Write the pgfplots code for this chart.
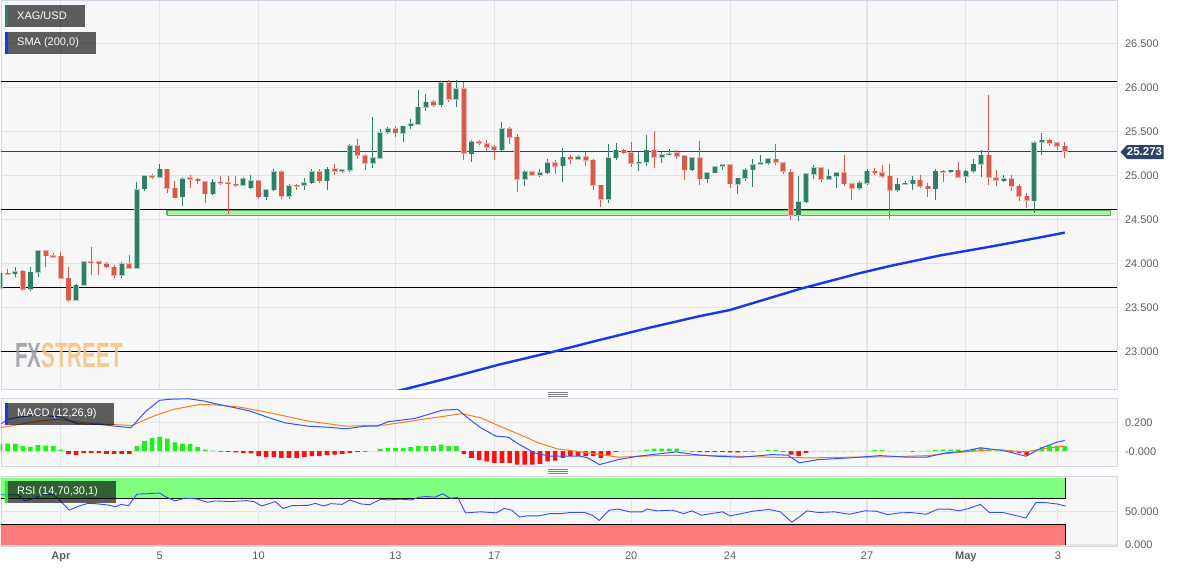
\documentclass[border=0pt]{standalone}
\usepackage{pgfplots}
\pgfplotsset{compat=1.18}
\usepackage{pgfplotstable}
\usepackage{fontspec}
\setmainfont{Liberation Sans}

\definecolor{bg}{HTML}{F7F7F7}
\definecolor{gridc}{HTML}{E4E4E4}
\definecolor{border}{HTML}{D3D8E8}
\definecolor{cup}{HTML}{2F7F67}
\definecolor{cuplt}{HTML}{A3CDBF}
\definecolor{cdn}{HTML}{D85A4A}
\definecolor{cdnlt}{HTML}{EDB0A8}
\definecolor{smac}{HTML}{1638E8}
\definecolor{macdc}{HTML}{3355FF}
\definecolor{sigc}{HTML}{FF7B1C}
\definecolor{hup}{HTML}{1DF01D}
\definecolor{hdn}{HTML}{FF1010}
\definecolor{rsig}{HTML}{80FF80}
\definecolor{rsir}{HTML}{FA7B7B}
\definecolor{navyc}{HTML}{2C4566}
\definecolor{lab}{HTML}{5E5E5E}
\definecolor{zonef}{HTML}{B5EBAE}
\definecolor{zonee}{HTML}{4CB84C}
\definecolor{wmg}{HTML}{9A9CA3}
\definecolor{wmo}{HTML}{F5C27E}
\definecolor{rsil}{HTML}{3050F0}

\pgfplotstableread{
k O H L C
1 23.715 23.890 23.700 23.886
3 23.882 23.962 23.840 23.901
5 23.704 23.954 23.689 23.897
6 23.901 24.158 23.840 24.143
11 23.583 23.765 23.575 23.749
12 23.753 24.018 23.746 24.015
17 23.867 24.018 23.829 23.996
19 23.946 24.927 23.931 24.840
20 24.848 25.011 24.825 24.996
22 24.984 25.136 24.977 25.071
25 24.757 24.984 24.651 24.965
29 24.795 24.965 24.776 24.924
33 24.890 24.984 24.878 24.965
34 24.863 25.003 24.852 24.943
36 24.757 24.852 24.727 24.840
37 24.840 25.079 24.825 25.041
39 24.765 24.908 24.734 24.886
41 24.890 24.977 24.840 24.920
42 24.920 25.079 24.908 25.041
44 24.939 25.098 24.840 25.071
46 25.052 25.079 25.030 25.064
47 25.060 25.363 25.041 25.340
50 25.143 25.666 25.090 25.200
51 25.200 25.533 25.193 25.488
52 25.496 25.552 25.469 25.533
54 25.484 25.568 25.382 25.560
55 25.568 25.647 25.533 25.587
56 25.583 25.977 25.571 25.776
57 25.780 25.931 25.734 25.833
59 25.806 26.075 25.780 26.056
61 25.867 26.083 25.780 25.988
63 25.249 25.401 25.155 25.382
67 25.295 25.609 25.280 25.533
70 24.958 25.060 24.882 25.045
72 25.007 25.079 24.984 25.033
73 25.033 25.189 25.022 25.143
75 25.113 25.318 24.927 25.208
77 25.189 25.230 25.181 25.215
81 24.734 25.355 24.689 25.204
82 25.204 25.374 25.174 25.287
85 25.140 25.268 25.052 25.151
86 25.151 25.458 25.105 25.287
88 25.208 25.268 25.143 25.238
89 25.238 25.306 25.230 25.249
92 25.068 25.211 25.049 25.200
94 24.962 25.041 24.916 25.030
95 25.033 25.105 25.030 25.098
96 25.105 25.136 25.060 25.121
98 24.901 24.977 24.795 24.969
99 24.969 25.090 24.939 25.068
100 25.068 25.193 24.871 25.124
101 25.132 25.238 25.128 25.140
102 25.140 25.200 25.124 25.189
106 24.549 24.992 24.484 24.704
107 24.700 25.030 24.689 25.018
108 25.018 25.124 24.965 25.087
110 24.958 25.079 24.946 24.992
111 24.992 25.037 24.859 25.030
114 24.859 24.935 24.840 24.920
115 24.916 25.071 24.890 25.049
119 24.833 24.973 24.814 24.901
120 24.901 24.935 24.890 24.908
121 24.908 24.992 24.840 24.946
124 24.848 25.071 24.727 25.049
126 25.045 25.068 25.030 25.060
128 24.992 25.060 24.916 25.049
129 25.049 25.193 25.030 25.128
130 25.132 25.287 24.984 25.230
133 24.939 25.003 24.927 24.965
137 24.712 25.390 24.575 25.371
138 25.382 25.488 25.238 25.401
}\upT

\pgfplotstableread{
k O H L C
2 23.886 23.931 23.867 23.874
4 23.909 23.924 23.689 23.704
7 24.143 24.158 23.954 24.087
8 24.083 24.113 24.056 24.071
9 24.079 24.132 23.818 23.829
10 23.829 23.962 23.564 23.583
13 24.015 24.189 23.867 24.007
14 24.015 24.030 23.867 23.996
15 23.992 24.018 23.943 23.962
16 23.954 23.980 23.829 23.867
18 23.996 24.094 23.931 23.946
21 24.996 25.022 24.958 24.984
23 25.071 25.079 24.802 24.859
24 24.855 24.939 24.742 24.749
26 24.973 25.003 24.863 24.958
27 24.958 24.977 24.908 24.939
28 24.931 24.939 24.689 24.795
30 24.924 24.996 24.890 24.912
31 24.916 25.000 24.560 24.905
32 24.901 24.996 24.871 24.890
35 24.943 24.954 24.734 24.757
38 25.041 25.068 24.738 24.765
40 24.890 24.901 24.840 24.878
43 25.041 25.079 24.916 24.939
45 25.075 25.136 25.003 25.052
48 25.340 25.420 25.193 25.230
49 25.227 25.249 25.068 25.143
53 25.530 25.564 25.439 25.488
58 25.837 25.855 25.780 25.802
60 26.052 26.083 25.837 25.867
62 25.984 26.064 25.181 25.257
64 25.386 25.408 25.344 25.371
65 25.363 25.401 25.280 25.325
66 25.325 25.344 25.181 25.295
68 25.533 25.552 25.355 25.439
69 25.435 25.469 24.814 24.958
71 25.041 25.049 24.992 25.003
74 25.147 25.181 25.022 25.109
76 25.208 25.230 25.136 25.189
78 25.215 25.268 25.105 25.174
79 25.174 25.193 24.840 24.890
80 24.890 24.890 24.643 24.734
83 25.287 25.302 25.249 25.261
84 25.257 25.382 25.098 25.143
87 25.287 25.503 25.087 25.208
90 25.257 25.295 25.189 25.223
91 25.223 25.230 24.954 25.068
93 25.200 25.390 24.897 24.962
97 25.121 25.128 24.859 24.908
103 25.185 25.363 25.124 25.151
104 25.147 25.155 25.022 25.049
105 25.037 25.079 24.499 24.549
109 25.087 25.098 24.927 24.958
112 25.030 25.230 24.886 24.908
113 24.908 24.916 24.727 24.859
116 25.049 25.090 25.003 25.030
117 25.030 25.124 24.973 24.992
118 24.992 25.136 24.507 24.833
122 24.946 25.011 24.859 24.878
123 24.878 24.916 24.757 24.852
125 25.049 25.060 24.927 25.037
127 25.060 25.155 24.973 24.984
131 25.230 25.912 24.897 24.984
132 24.973 25.068 24.886 24.946
134 24.965 25.011 24.821 24.878
135 24.878 24.908 24.708 24.765
136 24.765 24.802 24.632 24.719
139 25.401 25.412 25.333 25.371
140 25.371 25.382 25.295 25.336
141 25.333 25.382 25.204 25.276
}\dnT

\pgfplotsset{
  panel/.style={
    scale only axis, anchor=north west, width=1116pt,
    xmin=1.13, xmax=147.87,
    axis background/.style={fill=bg},
    axis line style={draw=border, line width=0.9pt},
    xtick={9,22,35,53,66,84,97,115,128,140.1},
    grid=major, major grid style={draw=gridc, line width=1.1pt},
    major tick length=0pt,
    yticklabel pos=right,
    yticklabel style={font=\fontsize{11}{13}\selectfont, text=lab, anchor=west, xshift=4.5pt},
    clip=true,
  },
  candle/.style 2 args={draw=none, mark=none, forget plot,
    error bars/.cd, y dir=plus, y explicit, error mark=none,
    error bar style={draw=#1, line width=#2}},
}

\begin{document}
\begin{tikzpicture}
\fill[white] (0,0) rectangle (1182pt,-571pt);
\useasboundingbox (0,0) rectangle (1182pt,-571pt);

% ---------------- main price panel
\begin{axis}[panel, at={(1pt,0pt)}, height=389.5pt,
  ymin=22.565, ymax=26.997,
  ytick={23,23.5,24,24.5,25,25.5,26,26.5},
  yticklabels={23.000,23.500,24.000,24.500,25.000,25.500,26.000,26.500},
  xticklabels={}]
% support zone
\addplot[fill=zonef, draw=zonee, line width=1.2pt, forget plot] coordinates {(22.96,24.547) (147,24.547) (147,24.599) (22.96,24.599) (22.96,24.547)};
% horizontal levels
\addplot[black, line width=1.1pt, forget plot] coordinates {(0,26.065) (150,26.065)};
\addplot[black, line width=1.1pt, forget plot] coordinates {(0,24.616) (150,24.616)};
\addplot[black, line width=1.1pt, forget plot] coordinates {(0,23.722) (150,23.722)};
\addplot[black, line width=1.1pt, forget plot] coordinates {(0,22.998) (150,22.998)};
\addplot[navyc, line width=1pt, forget plot] coordinates {(0,25.276) (150,25.276)};
% SMA 200
\addplot[smac, line width=2.4pt, forget plot] coordinates {
(52,22.52) (60.2,22.70) (66.7,22.85) (74.0,23.00) (79.9,23.13) (86.5,23.27)
(93.0,23.40) (97.0,23.47) (106.2,23.71) (114.1,23.89) (118.0,23.97)
(124.6,24.09) (131.2,24.19) (136.8,24.28) (141.0,24.35)};
% wicks
\addplot[candle={cup}{1pt}] table[x=k, y=L, y error plus expr={\thisrow{H}-\thisrow{L}}] {\upT};
\addplot[candle={cdn}{1pt}] table[x=k, y=L, y error plus expr={\thisrow{H}-\thisrow{L}}] {\dnT};
% body halos
\addplot[candle={cuplt}{5.8pt}] table[x=k, y expr={min(\thisrow{O},\thisrow{C})-0.007}, y error plus expr={max(abs(\thisrow{C}-\thisrow{O}),0.012)+0.014}] {\upT};
\addplot[candle={cdnlt}{5.8pt}] table[x=k, y expr={min(\thisrow{O},\thisrow{C})-0.007}, y error plus expr={max(abs(\thisrow{C}-\thisrow{O}),0.012)+0.014}] {\dnT};
% bodies
\addplot[candle={cup}{4.2pt}] table[x=k, y expr={min(\thisrow{O},\thisrow{C})}, y error plus expr={max(abs(\thisrow{C}-\thisrow{O}),0.012)}] {\upT};
\addplot[candle={cdn}{4.2pt}] table[x=k, y expr={min(\thisrow{O},\thisrow{C})}, y error plus expr={max(abs(\thisrow{C}-\thisrow{O}),0.012)}] {\dnT};
\end{axis}

% ---------------- MACD panel
\begin{axis}[panel, at={(1pt,-398pt)}, height=68pt,
  ymin=-0.104, ymax=0.374,
  ytick={0,0.2}, yticklabels={-0.000,0.200},
  xticklabels={}]
\addplot[ybar, bar width=4.6pt, bar shift=0pt, fill=hup, draw=none, forget plot] coordinates {
(1,0.050)(2,0.054)(3,0.054)(4,0.035)(5,0.031)(6,0.042)(7,0.040)(8,0.035)(9,0.012)
(19,0.035)(20,0.071)(21,0.094)(22,0.101)(23,0.089)(24,0.063)(25,0.054)(26,0.052)(27,0.031)(28,0.012)(29,0.005)
(51,0.016)(52,0.024)(53,0.024)(54,0.024)(55,0.028)(56,0.035)(57,0.035)(58,0.035)(59,0.047)(60,0.035)(61,0.035)
(83,0.002)(84,0.002)(85,0.003)(86,0.012)(87,0.019)(88,0.019)(89,0.019)(90,0.019)(91,0.005)
(101,0.003)(102,0.007)(103,0.007)(108,0.002)(109,0.002)(110,0.002)(111,0.003)(112,0.003)(113,0.002)(114,0.003)(115,0.003)
(116,0.007)(117,0.007)(118,0.002)(119,0.003)(120,0.002)(122,0.002)(123,0.005)(124,0.009)(125,0.012)(126,0.012)(127,0.012)
(128,0.009)(129,0.016)(130,0.024)(131,0.012)(132,0.005)(133,0.002)(137,0.010)(138,0.028)(139,0.040)(140,0.040)(141,0.035)};
\addplot[ybar, bar width=4.6pt, bar shift=0pt, fill=hdn, draw=none, forget plot] coordinates {
(10,-0.019)(11,-0.028)(12,-0.012)(13,-0.012)(14,-0.012)(15,-0.019)(16,-0.019)(17,-0.019)(18,-0.019)
(30,-0.002)(31,-0.005)(32,-0.009)(33,-0.012)(34,-0.016)(35,-0.035)(36,-0.042)(37,-0.040)(38,-0.047)(39,-0.047)
(40,-0.047)(41,-0.040)(42,-0.035)(43,-0.035)(44,-0.028)(45,-0.024)(46,-0.019)(47,-0.012)(48,-0.005)(49,-0.002)
(62,-0.019)(63,-0.047)(64,-0.063)(65,-0.071)(66,-0.082)(67,-0.082)(68,-0.082)(69,-0.094)(70,-0.094)(71,-0.094)
(72,-0.089)(73,-0.071)(74,-0.066)(75,-0.047)(76,-0.035)(77,-0.035)(78,-0.035)(79,-0.035)(80,-0.047)(81,-0.031)(82,-0.004)
(92,-0.003)(93,-0.007)(94,-0.007)(95,-0.007)(96,-0.005)(97,-0.009)(98,-0.009)(99,-0.003)(100,-0.003)
(104,-0.003)(105,-0.024)(106,-0.035)(107,-0.012)(121,-0.002)(134,-0.003)(135,-0.012)(136,-0.028)};
\addplot[sigc, line width=1pt, forget plot] coordinates {
(1,0.165)(3.5,0.188)(6.1,0.212)(8.6,0.224)(11.1,0.207)(13.6,0.193)(18.4,0.181)(21.2,0.247)(23.8,0.294)
(27.3,0.329)(29.3,0.325)(32.4,0.311)(36.4,0.271)(41.5,0.212)(46.5,0.176)(51.6,0.184)(56.6,0.224)(61.7,0.264)
(64.2,0.235)(66.7,0.176)(69.3,0.118)(71.8,0.059)(74.3,0.016)(76.8,0)(78.8,-0.015)(82.3,-0.042)(87.4,-0.031)
(92.4,-0.028)(97.5,-0.035)(102.5,-0.042)(107.6,-0.047)(112.7,-0.042)(117.7,-0.040)(122.8,-0.031)
(127.8,-0.005)(131.9,0.012)(135.9,-0.005)(139,0.024)(141,0.035)};
\addplot[macdc, line width=1pt, forget plot] coordinates {
(1,0.188)(2,0.224)(3.5,0.240)(6.1,0.254)(9.1,0.240)(11.1,0.193)(14.1,0.188)(16.2,0.176)(18.2,0.165)
(20.2,0.282)(22,0.358)(23.3,0.365)(25.8,0.369)(27.8,0.353)(29.3,0.334)(31.4,0.311)(33.9,0.282)(36.4,0.235)
(38.4,0.200)(41.5,0.176)(44,0.169)(46.5,0.158)(49,0.176)(50.6,0.176)(52,0.207)(55.6,0.231)(59.2,0.289)
(61.2,0.294)(62.2,0.247)(64.2,0.165)(66.2,0.106)(67.8,0.099)(69.3,0.047)(71.3,-0.012)(73.3,-0.035)
(75.8,-0.035)(77.3,-0.035)(78.3,-0.047)(79.8,-0.094)(82.3,-0.059)(84.9,-0.035)(89.9,-0.005)(92.4,-0.024)
(95,-0.035)(98.5,-0.042)(102.5,-0.024)(104.6,-0.028)(106.1,-0.082)(108.6,-0.059)(112.7,-0.047)(116.7,-0.031)
(120.3,-0.042)(122.8,-0.042)(125.3,-0.012)(127.8,0)(129.9,0.024)(132.9,0.005)(135.9,-0.035)(138,0.024)
(140,0.064)(141,0.075)};
\end{axis}

% ---------------- RSI panel
\begin{axis}[panel, at={(1pt,-476pt)}, height=70pt,
  ymin=-1.5, ymax=103,
  ytick={0,50}, yticklabels={0.000,50.000},
  xticklabels={\textbf{Apr},5,10,13,17,20,24,27,\textbf{May},3},
  xticklabel style={font=\fontsize{11}{13}\selectfont, text=lab, yshift=-2pt}]
\addplot[fill=rsig, draw=none, forget plot] coordinates {(0,70)(141.1,70)(141.1,100)(0,100)(0,70)};
\addplot[fill=rsir, draw=none, forget plot] coordinates {(0,0)(141.1,0)(141.1,30)(0,30)(0,0)};
\addplot[black, line width=0.9pt, forget plot] coordinates {(0,70)(141.1,70)(141.1,100)};
\addplot[black, line width=0.9pt, forget plot] coordinates {(0,30)(141.1,30)(141.1,0)};
\addplot[rsil, line width=0.9pt, forget plot] coordinates {
(1,75)(2,75)(3.3,75)(4.3,66.3)(5.6,69.9)(6.8,76.5)(8.1,75)(8.8,67.3)(10.1,52)(11.4,58.2)(12.6,62.2)(13.6,61.7)
(15.2,59.7)(16.2,57.1)(16.9,60.7)(17.9,58.7)(19,76)(20.2,76.5)(22,77.6)(22.7,72.4)(24,65.8)(25.3,69.9)
(26.8,68.9)(28.3,63.8)(29.3,65.8)(31.3,64.8)(33.4,66.3)(34.4,64.8)(35.4,58.2)(37.2,64.8)(38.2,54.6)
(39.4,58.7)(41.5,59.2)(42.5,62.2)(43.5,58.2)(44.5,61.7)(46,60.7)(47,67.3)(48.5,61.2)(49.6,60.2)
(51.1,68.4)(52.1,67.3)(53.6,68.4)(55.1,67.3)(56.1,71.4)(57.1,72.4)(58.2,71.4)(59.2,76.5)(60.2,69.9)
(61.2,70.9)(62.2,48)(64.2,49.5)(66.3,48)(67.3,54.6)(68.3,52)(69.3,41.8)(70.3,43.4)(71.8,43.4)(73.3,46.9)
(74.8,46.9)(75.9,48.5)(77.9,48.5)(78.9,44.4)(79.8,36.7)(81.1,52)(82.3,53.6)(83.8,49.5)(85.4,49.5)
(86.1,53.6)(87.4,51)(89.4,52)(90.9,46.9)(92,51)(93.2,44.4)(94.5,46.9)(96,49.5)(97,43.4)(98.5,46.9)
(100,50.5)(102.1,53.1)(103.6,49.5)(105.1,34.2)(106.1,41.8)(107.1,51)(108.6,48.5)(110.7,49.5)(112.7,45.9)
(114.7,51)(116.2,50.5)(117.7,45.4)(119.3,48)(120.8,48.5)(122.8,45.9)(124.3,53.6)(125.8,53.6)(127.1,51)
(128.4,54.6)(129.9,60.7)(131.1,48.5)(132.9,48.5)(134.4,44.4)(135.9,40.3)(137.2,63.3)(138.5,63.3)
(140,61.2)(141.1,58.2)};
\end{axis}

% ---------------- decorations: labels, watermark, tag, separators
\begin{scope}[font=\fontsize{11}{13}\selectfont]
\fill[black, fill opacity=0.62] (5pt,-5pt) rectangle (85pt,-27pt);
\fill[cup] (5pt,-5pt) rectangle (7.5pt,-27pt);
\node[anchor=west, text=white, inner sep=0pt] at (17pt,-16pt) {XAG/USD};
\fill[black, fill opacity=0.62] (5pt,-32pt) rectangle (96pt,-54pt);
\fill[smac] (5pt,-32pt) rectangle (7.5pt,-54pt);
\node[anchor=west, text=white, inner sep=0pt] at (17pt,-43pt) {SMA (200,0)};
\fill[black, fill opacity=0.62] (5pt,-403pt) rectangle (114pt,-425pt);
\fill[smac] (5pt,-403pt) rectangle (7.5pt,-425pt);
\node[anchor=west, text=white, inner sep=0pt] at (17pt,-414pt) {MACD (12,26,9)};
\fill[black, fill opacity=0.62] (5pt,-481pt) rectangle (116pt,-503pt);
\fill[hup] (5pt,-481pt) rectangle (7.5pt,-503pt);
\node[anchor=west, text=white, inner sep=0pt] at (17pt,-492pt) {RSI (14,70,30,1)};
\end{scope}

\node[anchor=west, inner sep=0pt, xscale=0.59, font=\fontsize{35}{35}\selectfont\bfseries, opacity=0.85] at (15pt,-355.5pt) {\textcolor{wmg}{FX}\textcolor{wmo}{STREET}};

\fill[navyc] (1120.5pt,-152pt) -- (1127pt,-145pt) -- (1163.5pt,-145pt) -- (1163.5pt,-159pt) -- (1127pt,-159pt) -- cycle;
\node[text=white, inner sep=0pt, font=\fontsize{11.5}{13}\selectfont\bfseries] at (1144.5pt,-152pt) {25.273};

\foreach \yy in {392.6,394.5,396.4} {\draw[gray, line width=0.8pt] (548pt,-\yy pt) -- (568pt,-\yy pt);}
\foreach \yy in {469.6,471.5,473.4} {\draw[gray, line width=0.8pt] (548pt,-\yy pt) -- (568pt,-\yy pt);}
\end{tikzpicture}
\end{document}
